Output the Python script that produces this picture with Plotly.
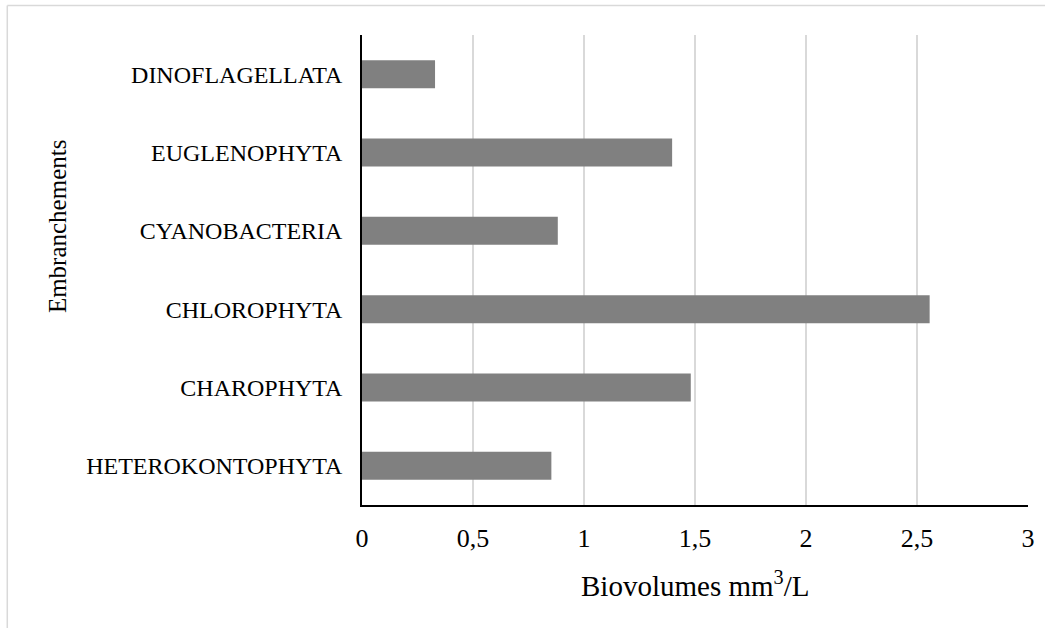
import plotly.graph_objects as go

# Phyla (bottom to top) and their biovolumes in mm³/L
phyla = ["HETEROKONTOPHYTA", "CHAROPHYTA", "CHLOROPHYTA",
         "CYANOBACTERIA", "EUGLENOPHYTA", "DINOFLAGELLATA"]
biovolumes = [0.853, 1.481, 2.557, 0.882, 1.397, 0.329]

x_ticks = [0, 0.5, 1, 1.5, 2, 2.5, 3]

FONT = "Liberation Serif, Times New Roman, serif"

fig = go.Figure(
    go.Bar(
        x=biovolumes,
        y=phyla,
        orientation="h",
        marker=dict(color="#808080", line=dict(width=0)),
        hoverinfo="x+y",
    )
)

fig.update_layout(
    width=1054,
    height=628,
    margin=dict(l=362, r=26, t=35, b=123),
    paper_bgcolor="white",
    plot_bgcolor="white",
    separators=", ",
    bargap=0.642,
    showlegend=False,
    font=dict(family=FONT, color="black"),
    xaxis=dict(
        range=[0, 3],
        tickvals=x_ticks,
        showgrid=True,
        gridcolor="#d9d9d9",
        gridwidth=1.5,
        zeroline=False,
        showline=True,
        linecolor="black",
        linewidth=1.5,
        ticks="",
        tickfont=dict(family=FONT, size=26, color="black"),
        ticklabelstandoff=9,
    ),
    yaxis=dict(
        categoryorder="array",
        categoryarray=phyla,
        showgrid=False,
        zeroline=False,
        showline=True,
        linecolor="black",
        linewidth=1.5,
        ticks="",
        tickfont=dict(family=FONT, size=24, color="black"),
        ticklabelstandoff=13,
    ),
    annotations=[
        dict(
            text="Biovolumes mm<sup>3</sup>/L",
            xref="paper", yref="paper",
            x=0.5, y=-0.125,
            xanchor="center", yanchor="top",
            showarrow=False,
            font=dict(family=FONT, size=29, color="black"),
        ),
        dict(
            text="Embranchements",
            xref="paper", yref="paper",
            x=-0.456, y=0.594,
            xanchor="center", yanchor="middle",
            textangle=-90,
            showarrow=False,
            font=dict(family=FONT, size=25, color="black"),
        ),
    ],
    shapes=[
        # chart-area frame (top and left edges)
        dict(type="line", xref="paper", yref="paper",
             x0=-0.5326, x1=1.0256, y0=1.0628, y1=1.0628,
             line=dict(color="#d9d9d9", width=1.5)),
        dict(type="line", xref="paper", yref="paper",
             x0=-0.5326, x1=-0.5326, y0=1.0628, y1=-0.27,
             line=dict(color="#d9d9d9", width=1.5)),
    ],
)

fig.write_html("out.html")
